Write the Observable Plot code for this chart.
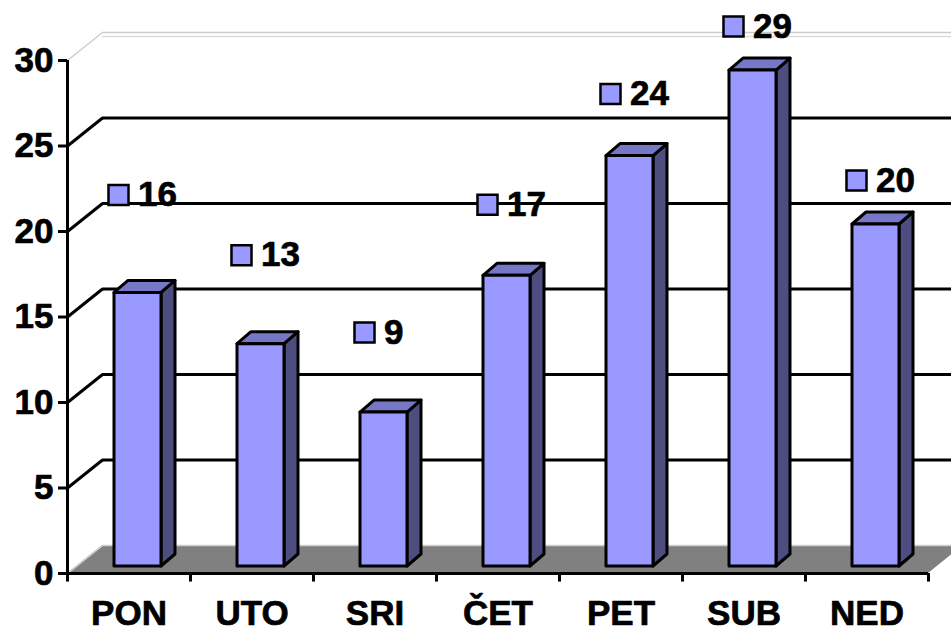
<!DOCTYPE html>
<html>
<head>
<meta charset="utf-8">
<script src="https://cdn.jsdelivr.net/npm/d3@7"></script>
<script src="https://cdn.jsdelivr.net/npm/@observablehq/plot@0.6"></script>
<style>
  html, body { margin: 0; padding: 0; background: #fff; }
</style>
</head>
<body>
<div id="chart"></div>
<script>
const days = ["PON", "UTO", "SRI", "ČET", "PET", "SUB", "NED"];
const values = [16, 13, 9, 17, 24, 29, 20];
const yTicks = [0, 5, 10, 15, 20, 25, 30];
const gridLevels = [5, 10, 15, 20, 25];

const W = 951, H = 632;
const mL = 67, mR = 23, mT = 60, mB = 59;
const kx = (W - mL - mR) / days.length;   // px per x unit
const ky = (H - mT - mB) / 30;            // px per y unit

// wall depth (px -> data units)
const Dx = 35 / kx, Dy = 28 / ky;
// bar geometry
const hw = 23.5 / kx;
const bdx = 14 / kx, bdy = 12 / ky;
const barDX = 9, barDY = -7;

const rows = days.map((d, i) => ({day: d, i, v: values[i], c: i + 0.5}));

const sideFaces = rows.flatMap(d => [
  {i: d.i, x: d.c + hw, y1: 0, y2: d.v},
  {i: d.i, x: d.c + hw + bdx, y1: bdy, y2: d.v + bdy}
]);
const topFaces = rows.flatMap(d => [
  {i: d.i, y: d.v, x1: d.c - hw, x2: d.c + hw},
  {i: d.i, y: d.v + bdy, x1: d.c - hw + bdx, x2: d.c + hw + bdx}
]);
const floorPoly = [
  {y: 0, x1: 0, x2: days.length},
  {y: Dy, x1: Dx, x2: days.length + Dx}
];

// data labels float above the bars, kept inside the chart area
const labelY = d => Math.min(d.v + (-barDY + 98 - 9 * d.i) / ky, 30 + 34 / ky);
const font = "'Liberation Sans', Arial, Helvetica, sans-serif";
const txt = {fontSize: 35, fontWeight: "bold", fill: "black", stroke: "black", strokeWidth: 0.7};

const chart = Plot.plot({
  width: W, height: H,
  marginLeft: mL, marginRight: mR, marginTop: mT, marginBottom: mB,
  x: {type: "linear", domain: [0, days.length], axis: null},
  y: {type: "linear", domain: [0, 30], axis: null},
  style: {fontFamily: font, fontWeight: "bold", background: "#fff", overflow: "visible"},
  marks: [
    // floor
    Plot.areaX(floorPoly, {y: "y", x1: "x1", x2: "x2", fill: "#808080"}),
    Plot.link([0], {x1: 0, y1: 0, x2: Dx, y2: Dy, stroke: "#d8d8d8", strokeWidth: 1.5}),
    Plot.ruleY([Dy], {x1: Dx, x2: days.length + 1, stroke: "#cfcfcf", strokeWidth: 1.5}),
    // back wall gridlines and left wall diagonals
    Plot.ruleY(gridLevels, {y: d => d + Dy, x1: Dx, x2: days.length + 1, stroke: "black", strokeWidth: 3}),
    Plot.link(gridLevels, {x1: 0, y1: d => d, x2: Dx, y2: d => d + Dy, stroke: "black", strokeWidth: 3}),
    // wall top edge
    Plot.link([30], {x1: 0, y1: 30, x2: Dx, y2: 30 + Dy, stroke: "#cccccc", strokeWidth: 1.5}),
    Plot.ruleY([30 + Dy], {x1: Dx, x2: days.length + 1, stroke: "#cccccc", strokeWidth: 1.5}),
    Plot.ruleY([30 + Dy], {x1: Dx, x2: days.length + 1, stroke: "#dddddd", strokeWidth: 1.5, dy: 4}),
    // bars
    Plot.areaY(sideFaces, {x: "x", y1: "y1", y2: "y2", z: "i", fill: "#4D4D80", stroke: "black", strokeWidth: 3, strokeLinejoin: "round", dx: barDX, dy: barDY}),
    Plot.areaX(topFaces, {y: "y", x1: "x1", x2: "x2", z: "i", fill: "#7777C8", stroke: "black", strokeWidth: 3, strokeLinejoin: "round", dx: barDX, dy: barDY}),
    Plot.rect(rows, {x1: d => d.c - hw, x2: d => d.c + hw, y1: 0, y2: "v", fill: "#9999FF", stroke: "black", strokeWidth: 3, strokeLinejoin: "round", dx: barDX, dy: barDY}),
    // front axes
    Plot.ruleX([0], {y1: -0.45, y2: 30, stroke: "black", strokeWidth: 3}),
    Plot.ruleY([0], {x1: 0, x2: days.length, stroke: "black", strokeWidth: 3}),
    Plot.ruleX(d3.range(days.length + 1), {y1: 0, y2: -0.5, stroke: "black", strokeWidth: 3}),
    Plot.axisY(yTicks, {tickSize: 9, tickPadding: 5, strokeWidth: 3, fontSize: 35, fontWeight: "bold", textStroke: "black", textStrokeWidth: 0.7, tickFormat: d => String(d)}),
    // category labels
    Plot.text(rows, {x: "c", y: 0, text: "day", dy: 27, lineAnchor: "top", ...txt}),
    // data labels
    Plot.dot(rows, {x: "c", y: labelY, symbol: "square", r: 11.3, fill: "#9999FF", stroke: "black", strokeWidth: 2.5, dx: -10.5}),
    Plot.text(rows, {x: "c", y: labelY, text: d => String(d.v), dx: 9, textAnchor: "start", lineAnchor: "middle", ...txt})
  ]
});
document.getElementById("chart").appendChild(chart);
</script>
</body>
</html>
